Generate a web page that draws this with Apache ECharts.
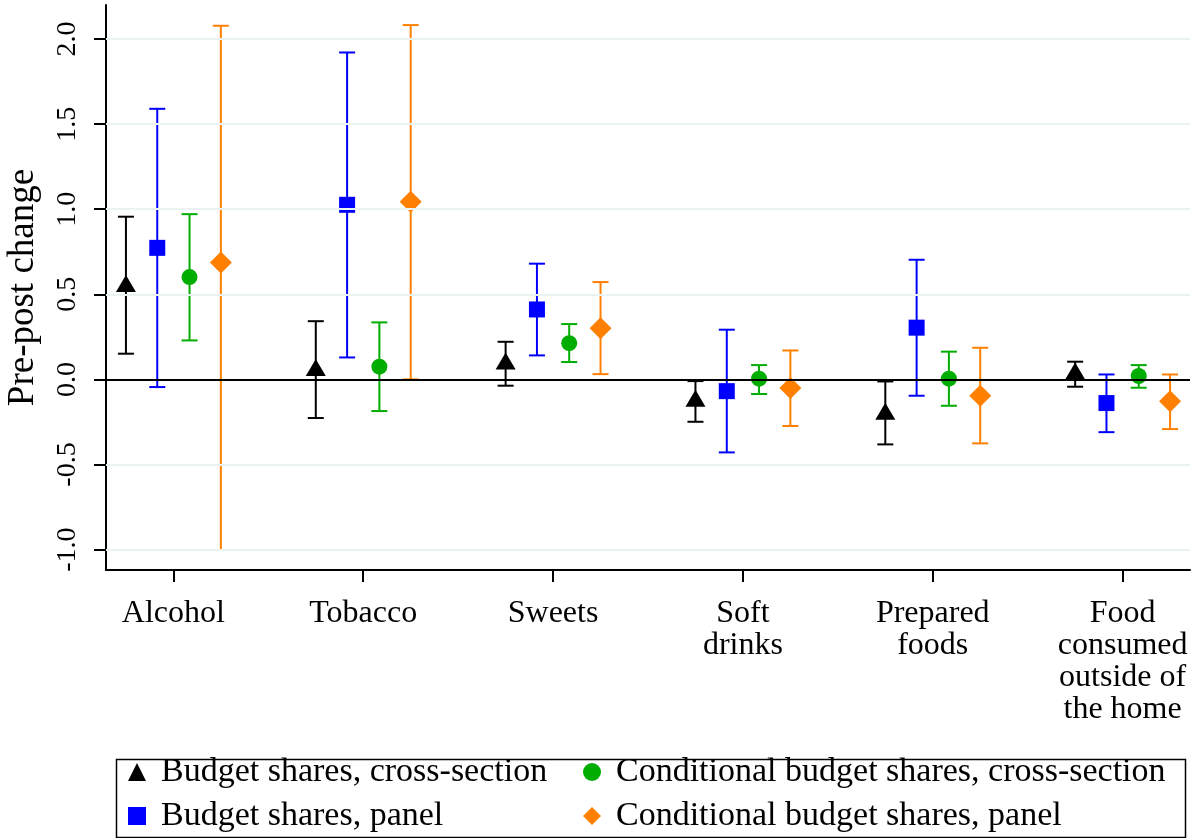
<!DOCTYPE html>
<html>
<head>
<meta charset="utf-8">
<style>
  html, body { margin: 0; padding: 0; background: #fff; }
  #chart { width: 1200px; height: 838px; }
</style>
<script src="https://cdn.jsdelivr.net/npm/echarts@6/dist/echarts.min.js"></script>
</head>
<body>
<div id="chart"></div>
<script>
const categories = ['Alcohol', 'Tobacco', 'Sweets', 'Soft\ndrinks', 'Prepared\nfoods', 'Food\nconsumed\noutside of\nthe home']
const yTicks = [-1.0, -0.5, 0.0, 0.5, 1.0, 1.5, 2.0]

// point estimates and 95% CI bounds, one array per estimate
const bsCrossEst = [0.564, 0.070, 0.108, -0.111, -0.187, 0.050]
const bsCrossLo = [0.151, -0.227, -0.037, -0.249, -0.382, -0.043]
const bsCrossHi = [0.956, 0.342, 0.221, -0.010, -0.012, 0.104]

const bsPanelEst = [0.773, 1.026, 0.411, -0.069, 0.304, -0.139]
const bsPanelLo = [-0.045, 0.129, 0.141, -0.429, -0.096, -0.310]
const bsPanelHi = [1.590, 1.921, 0.680, 0.292, 0.703, 0.029]

const cbsCrossEst = [0.601, 0.075, 0.213, 0.004, 0.004, 0.020]
const cbsCrossLo = [0.229, -0.186, 0.102, -0.086, -0.155, -0.049]
const cbsCrossHi = [0.971, 0.335, 0.325, 0.084, 0.163, 0.084]

const cbsPanelEst = [0.687, 1.044, 0.301, -0.051, -0.096, -0.129]
const cbsPanelLo = [-1.000, 0.000, 0.031, -0.274, -0.376, -0.292]
const cbsPanelHi = [2.078, 2.082, 0.572, 0.170, 0.186, 0.029]

const ciFloor = -1.0 // bars cut at the graph floor get no cap
const font = '"Liberation Serif", "Times New Roman", serif'

const groups = [
  { name: 'Budget shares, cross-section', est: bsCrossEst, lo: bsCrossLo, hi: bsCrossHi, color: '#000000', symbol: 'triangle', size: [20, 17], shift: -0.25 },
  { name: 'Budget shares, panel', est: bsPanelEst, lo: bsPanelLo, hi: bsPanelHi, color: '#0000ff', symbol: 'rect', size: 16, shift: -0.085 },
  { name: 'Conditional budget shares, cross-section', est: cbsCrossEst, lo: cbsCrossLo, hi: cbsCrossHi, color: '#00ad00', symbol: 'circle', size: 16, shift: 0.085 },
  { name: 'Conditional budget shares, panel', est: cbsPanelEst, lo: cbsPanelLo, hi: cbsPanelHi, color: '#ff8000', symbol: 'diamond', size: [22, 22], shift: 0.25 }
]

// legend slot for each group: [marker left, row centre]
const legendSlots = [[128, 772], [128, 816], [583, 772], [583, 816]]
const legendIcons = ['triangle', 'rect', 'circle', 'diamond']

const chart = echarts.init(document.getElementById('chart'))

function errorBars(g) {
  return {
    type: 'custom',
    z: 2,
    data: g.est.map((v, i) => [i + 1 + g.shift, g.lo[i], g.hi[i]]),
    renderItem(params, api) {
      const x = api.value(0)
      const lo = api.value(1)
      const hi = api.value(2)
      const top = api.coord([x, hi])
      const bot = api.coord([x, lo])
      const style = { stroke: g.color, lineWidth: 2 }
      const half = 8
      const children = [
        { type: 'line', shape: { x1: top[0], y1: top[1], x2: bot[0], y2: bot[1] }, style },
        { type: 'line', shape: { x1: top[0] - half, y1: top[1], x2: top[0] + half, y2: top[1] }, style }
      ]
      if (lo > ciFloor) {
        children.push({ type: 'line', shape: { x1: bot[0] - half, y1: bot[1], x2: bot[0] + half, y2: bot[1] }, style })
      }
      return { type: 'group', children }
    }
  }
}

function points(g) {
  return {
    name: g.name,
    type: 'scatter',
    z: 3,
    symbol: g.symbol,
    symbolSize: g.size,
    itemStyle: { color: g.color, opacity: 1 },
    data: g.est.map((v, i) => [i + 1 + g.shift, v])
  }
}

const gridLines = {
  type: 'scatter',
  z: 1,
  data: [],
  silent: true,
  markLine: {
    silent: true,
    symbol: 'none',
    label: { show: false },
    animation: false,
    data: yTicks.map(v => ({
      yAxis: v,
      lineStyle: v === 0
        ? { color: '#000000', width: 2, type: 'solid' }
        : { color: '#eaf2f3', width: 2, type: 'solid' }
    }))
  }
}

const legends = groups.map((g, i) => ({
  orient: 'horizontal',
  left: legendSlots[i][0],
  top: legendSlots[i][1] - 17,
  padding: 0,
  itemWidth: 18,
  itemHeight: 18,
  selectedMode: false,
  textStyle: { fontFamily: font, fontSize: 34, color: '#000', lineHeight: 34, padding: [0, 0, 0, 10] },
  data: [{ name: g.name, icon: legendIcons[i] }]
}))

chart.setOption({
  animation: false,
  grid: { left: 106, right: 10, top: 5, bottom: 268, outerBoundsMode: 'none' },
  xAxis: {
    type: 'value',
    min: 0.645,
    max: 6.355,
    axisLine: { onZero: false, lineStyle: { color: '#000', width: 2 } },
    axisTick: { customValues: [1, 2, 3, 4, 5, 6], length: 12, lineStyle: { color: '#000', width: 2 } },
    axisLabel: {
      customValues: [1, 2, 3, 4, 5, 6],
      formatter: v => categories[Math.round(v) - 1],
      fontFamily: font,
      fontSize: 32,
      lineHeight: 32,
      color: '#000',
      margin: 28
    },
    splitLine: { show: false }
  },
  yAxis: {
    type: 'value',
    min: -1.12,
    max: 2.2,
    name: 'Pre-post change',
    nameLocation: 'middle',
    nameGap: 64,
    nameTextStyle: { fontFamily: font, fontSize: 37, color: '#000' },
    axisLine: { show: true, onZero: false, lineStyle: { color: '#000', width: 2 } },
    axisTick: { show: true, customValues: yTicks, length: 12, lineStyle: { color: '#000', width: 2 } },
    axisLabel: {
      customValues: yTicks,
      rotate: 90,
      formatter: v => v.toFixed(1),
      fontFamily: font,
      fontSize: 28,
      color: '#000',
      margin: 24
    },
    splitLine: { show: false }
  },
  legend: legends,
  graphic: [
    {
      type: 'rect',
      left: 114,
      top: 757,
      shape: { width: 1069, height: 78 },
      style: { fill: 'none', stroke: '#000', lineWidth: 1.5 },
      silent: true
    }
  ],
  series: [gridLines]
    .concat(groups.map(errorBars))
    .concat(groups.map(points))
})
</script>
</body>
</html>
